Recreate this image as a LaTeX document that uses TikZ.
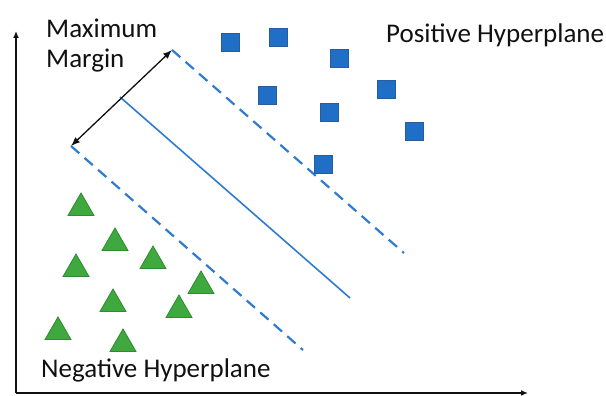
\documentclass[tikz,border=0pt]{standalone}
\usepackage{fontspec}
\setmainfont{Carlito}
\usepackage{xcolor}
\usetikzlibrary{arrows.meta,shapes.geometric}
\definecolor{ink}{HTML}{111111}
\definecolor{lineblue}{HTML}{2E7BD0}
\definecolor{sqfill}{HTML}{1F6FC6}
\definecolor{sqdraw}{HTML}{2A5B9A}
\definecolor{trifill}{HTML}{3FA83F}
\definecolor{tridraw}{HTML}{2E8B2E}
\tikzset{
  every node/.style={font=\fontsize{27}{30}\selectfont, text=ink},
  possq/.style={rectangle, draw=sqdraw, fill=sqfill, line width=0.8pt, minimum size=18pt, inner sep=0pt},
  negtri/.style={regular polygon, regular polygon sides=3, draw=tridraw, fill=trifill, line width=0.8pt, minimum size=30pt, inner sep=0pt},
  axis/.style={-{Latex[length=7pt,width=6pt]}, line width=1.5pt, draw=ink},
  hyper/.style={line width=1.6pt, draw=lineblue},
  hyperdash/.style={hyper, line width=2.2pt, dash pattern=on 11pt off 7pt},
  margin/.style={{Latex[length=9pt,width=7pt]}-{Latex[length=9pt,width=7pt]}, line width=1.3pt, draw=ink},
  label/.style={inner sep=0pt, align=left},
}
\begin{document}
\begin{tikzpicture}[x=1pt,y=-1pt]
\useasboundingbox (0,0) rectangle (606,396);
% axes
\coordinate (o) at (16,393);
\coordinate (xend) at (528,393);
\coordinate (yend) at (16,31);
\draw[axis] (o) -- (xend);
\draw[axis] (o) -- (yend);
% hyperplanes
\coordinate (up1) at (172,50);
\coordinate (up2) at (404,253);
\coordinate (mid1) at (120,97);
\coordinate (mid2) at (350,298);
\coordinate (lo1) at (71,146);
\coordinate (lo2) at (303,350);
\draw[hyperdash] (up1) -- (up2);
\draw[hyper] (mid1) -- (mid2);
\draw[hyperdash] (lo1) -- (lo2);
\draw[margin] (lo1) -- (up1);
% positive class
\node[possq] (p1) at (230,42) {};
\node[possq] (p2) at (278,37) {};
\node[possq] (p3) at (339,58) {};
\node[possq] (p4) at (267,95) {};
\node[possq] (p5) at (329,112) {};
\node[possq] (p6) at (386,89) {};
\node[possq] (p7) at (323,164) {};
\node[possq] (p8) at (414,131) {};
% negative class
\node[negtri] (n1) at (81,208) {};
\node[negtri] (n2) at (115,243) {};
\node[negtri] (n3) at (153,261) {};
\node[negtri] (n4) at (76,269) {};
\node[negtri] (n5) at (201,286) {};
\node[negtri] (n6) at (113,304) {};
\node[negtri] (n7) at (179,310) {};
\node[negtri] (n8) at (58,332) {};
\node[negtri] (n9) at (123,344) {};
% labels
\node[label, anchor=north west] (mm) at (46,19) {Maximum\\Margin};
\node[label, anchor=base west] (pos) at (386,43) {Positive Hyperplane};
\node[label, anchor=base west] (neg) at (41,377) {Negative Hyperplane};
\end{tikzpicture}
\end{document}
